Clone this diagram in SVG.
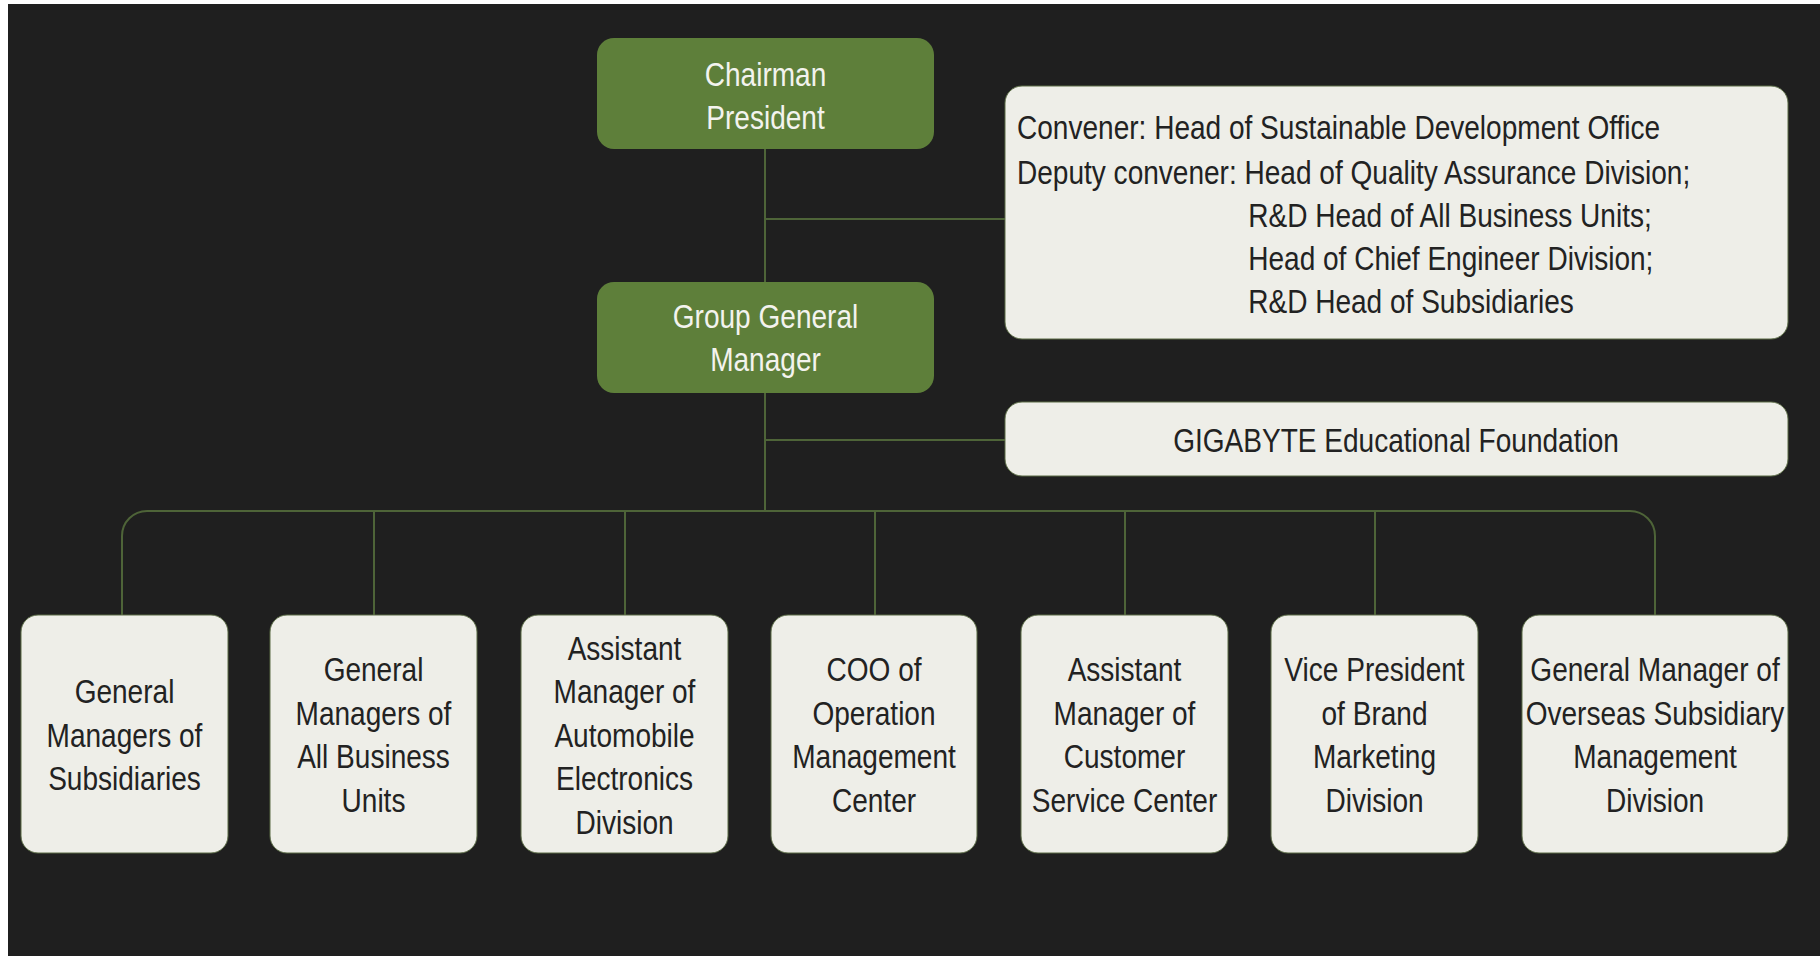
<svg xmlns="http://www.w3.org/2000/svg" width="1820" height="956" viewBox="0 0 1820 956">
<style>
.bg{fill:#1f1f1f}
.green{fill:#5e7f3a}
.light{fill:#eeeee8;stroke:#5a6b45;stroke-width:1}
.wt{font-family:"Liberation Sans",Arial,sans-serif;font-size:33px;fill:#f3f3ee;text-anchor:middle}
.dt{font-family:"Liberation Sans",Arial,sans-serif;font-size:33px;fill:#222222;text-anchor:middle}
.lt{font-family:"Liberation Sans",Arial,sans-serif;font-size:33px;fill:#222222}
.conn{fill:none;stroke:#4e6438;stroke-width:2}
</style>
<rect x="0" y="0" width="1820" height="956" fill="#ffffff"/>
<rect class="bg" x="8" y="4" width="1812" height="952"/>
<g id="connectors">
<path class="conn" d="M765 149 V282 M765 393 V511 M765 219 H1005 M765 440 H1005"/>
<path class="conn" d="M122 615 V536 A25 25 0 0 1 147 511 H1630 A25 25 0 0 1 1655 536 V615"/>
<path class="conn" d="M374 511 V615 M625 511 V615 M875 511 V615 M1125 511 V615 M1375 511 V615"/>
</g>
<g id="chairman">
<rect class="green" x="597" y="38" width="337" height="111" rx="17"/>
<g transform="translate(765.5,0) scale(0.85,1)">
<text class="wt" x="0" y="86">Chairman</text>
<text class="wt" x="0" y="129">President</text>
</g>
</g>
<g id="group-gm">
<rect class="green" x="597" y="282" width="337" height="111" rx="17"/>
<g transform="translate(765.5,0) scale(0.85,1)">
<text class="wt" x="0" y="328">Group General</text>
<text class="wt" x="0" y="371">Manager</text>
</g>
</g>
<g id="committee">
<rect class="light" x="1005" y="86" width="783" height="253" rx="17"/>
<g transform="translate(1017,0) scale(0.85,1)">
<text class="lt" x="0" y="139">Convener: Head of Sustainable Development Office</text>
<text class="lt" x="0" y="184">Deputy convener: Head of Quality Assurance Division;</text>
<text class="lt" x="272" y="227">R&amp;D Head of All Business Units;</text>
<text class="lt" x="272" y="270">Head of Chief Engineer Division;</text>
<text class="lt" x="272" y="313">R&amp;D Head of Subsidiaries</text>
</g>
</g>
<g id="foundation">
<rect class="light" x="1005" y="402" width="783" height="74" rx="17"/>
<g transform="translate(1396,0) scale(0.85,1)">
<text class="dt" x="0" y="452">GIGABYTE Educational Foundation</text>
</g>
</g>
<g id="gm-subsidiaries">
<rect class="light" x="21" y="615" width="207" height="238" rx="17"/>
<g transform="translate(124.5,0) scale(0.85,1)">
<text class="dt" x="0" y="703">General</text>
<text class="dt" x="0" y="747">Managers of</text>
<text class="dt" x="0" y="790">Subsidiaries</text>
</g>
</g>
<g id="gm-business-units">
<rect class="light" x="270" y="615" width="207" height="238" rx="17"/>
<g transform="translate(373.5,0) scale(0.85,1)">
<text class="dt" x="0" y="681">General</text>
<text class="dt" x="0" y="725">Managers of</text>
<text class="dt" x="0" y="768">All Business</text>
<text class="dt" x="0" y="812">Units</text>
</g>
</g>
<g id="am-automobile">
<rect class="light" x="521" y="615" width="207" height="238" rx="17"/>
<g transform="translate(624.5,0) scale(0.85,1)">
<text class="dt" x="0" y="660">Assistant</text>
<text class="dt" x="0" y="703">Manager of</text>
<text class="dt" x="0" y="747">Automobile</text>
<text class="dt" x="0" y="790">Electronics</text>
<text class="dt" x="0" y="834">Division</text>
</g>
</g>
<g id="coo-operation">
<rect class="light" x="771" y="615" width="206" height="238" rx="17"/>
<g transform="translate(874,0) scale(0.85,1)">
<text class="dt" x="0" y="681">COO of</text>
<text class="dt" x="0" y="725">Operation</text>
<text class="dt" x="0" y="768">Management</text>
<text class="dt" x="0" y="812">Center</text>
</g>
</g>
<g id="am-customer-service">
<rect class="light" x="1021" y="615" width="207" height="238" rx="17"/>
<g transform="translate(1124.5,0) scale(0.85,1)">
<text class="dt" x="0" y="681">Assistant</text>
<text class="dt" x="0" y="725">Manager of</text>
<text class="dt" x="0" y="768">Customer</text>
<text class="dt" x="0" y="812">Service Center</text>
</g>
</g>
<g id="vp-brand-marketing">
<rect class="light" x="1271" y="615" width="207" height="238" rx="17"/>
<g transform="translate(1374.5,0) scale(0.85,1)">
<text class="dt" x="0" y="681">Vice President</text>
<text class="dt" x="0" y="725">of Brand</text>
<text class="dt" x="0" y="768">Marketing</text>
<text class="dt" x="0" y="812">Division</text>
</g>
</g>
<g id="gm-overseas">
<rect class="light" x="1522" y="615" width="266" height="238" rx="17"/>
<g transform="translate(1655,0) scale(0.85,1)">
<text class="dt" x="0" y="681">General Manager of</text>
<text class="dt" x="0" y="725">Overseas Subsidiary</text>
<text class="dt" x="0" y="768">Management</text>
<text class="dt" x="0" y="812">Division</text>
</g>
</g>
</svg>
